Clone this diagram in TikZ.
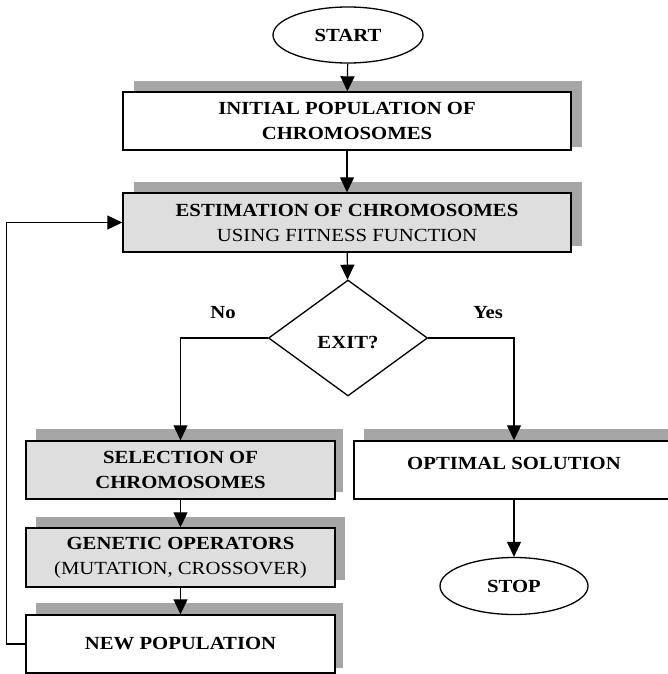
\documentclass[tikz,border=0pt]{standalone}
\usepackage{fontspec}
\setmainfont{Liberation Serif}[FakeStretch=1.12]
\usetikzlibrary{arrows.meta,shapes.geometric}
\definecolor{shadowc}{HTML}{A6A6A6}
\definecolor{boxfill}{HTML}{DEDEDE}
\tikzset{
  box/.style={draw=black, line width=1.4pt, rectangle, inner sep=0pt, align=center, font=\flowfont},
  graybox/.style={box, fill=boxfill},
  whitebox/.style={box, fill=white},
  term/.style={draw=black, line width=1.3pt, ellipse, inner sep=0pt, fill=white, font=\flowfont\bfseries},
  decide/.style={draw=black, line width=1.3pt, diamond, inner sep=0pt, fill=white, font=\flowfont\bfseries},
  lbl/.style={font=\flowfont\bfseries, inner sep=0pt},
  conn/.style={line width=1.2pt, -{Triangle[width=14pt,length=15pt]}},
  shade/.style={fill=shadowc}
}
\newcommand{\flowfont}{\fontsize{18.5}{25}\selectfont}
\begin{document}
\begin{tikzpicture}[x=1pt,y=-1pt]
\clip (0,0) rectangle (668,674);
\useasboundingbox (0,0) rectangle (668,674);

% shadows
\fill[shade] (134,81) rectangle (582,147);
\fill[shade] (134,182) rectangle (582,246);
\fill[shade] (36,429) rectangle (343,492);
\fill[shade] (36,517) rectangle (345,580);
\fill[shade] (36,603) rectangle (343,668);
\fill[shade] (364,429) rectangle (690,492);

\node[term, minimum width=150pt, minimum height=56pt] (start) at (348,35) {START};
\node[whitebox, minimum width=448pt, minimum height=58pt] (b1) at (347,121)
  {\bfseries INITIAL POPULATION OF\\\bfseries CHROMOSOMES};
\node[graybox, minimum width=448pt, minimum height=59pt] (b2) at (347,222.5)
  {\bfseries ESTIMATION OF CHROMOSOMES\\USING FITNESS FUNCTION};
\node[decide, minimum width=159pt, minimum height=116pt] (d) at (348,338) {};
\node[lbl] (exit) at (348,343) {EXIT?};
\node[lbl] (no) at (223,313) {No};
\node[lbl] (yes) at (488,313) {Yes};
\node[graybox, minimum width=309pt, minimum height=58pt] (sel) at (180.5,470)
  {\bfseries SELECTION OF\\\bfseries CHROMOSOMES};
\node[graybox, minimum width=309pt, minimum height=59pt] (gen) at (180.5,557.5)
  {\bfseries GENETIC OPERATORS\\(MUTATION, CROSSOVER)};
\node[whitebox, minimum width=309pt, minimum height=58pt] (np) at (180.5,644)
  {\bfseries NEW POPULATION};
\node[whitebox, minimum width=320pt, minimum height=58pt] (opt) at (514,470) {};
\node[lbl] (opttext) at (514,463) {OPTIMAL SOLUTION};
\node[term, minimum width=148pt, minimum height=57pt] (stop) at (514,586) {STOP};

% connectors
\draw[conn] (start) -- (b1);
\draw[conn] (b1) -- (b2);
\draw[conn] (b2) -- (d);
\draw[conn] (d.west) -| (sel.north);
\draw[conn] (d.east) -| (opt.north);
\draw[conn] (sel) -- (gen);
\draw[conn] (gen) -- (np);
\draw[conn] (opt) -- (stop);
\draw[conn] (np.west) -- ++(-19,0) |- (b2.west);
\end{tikzpicture}
\end{document}
